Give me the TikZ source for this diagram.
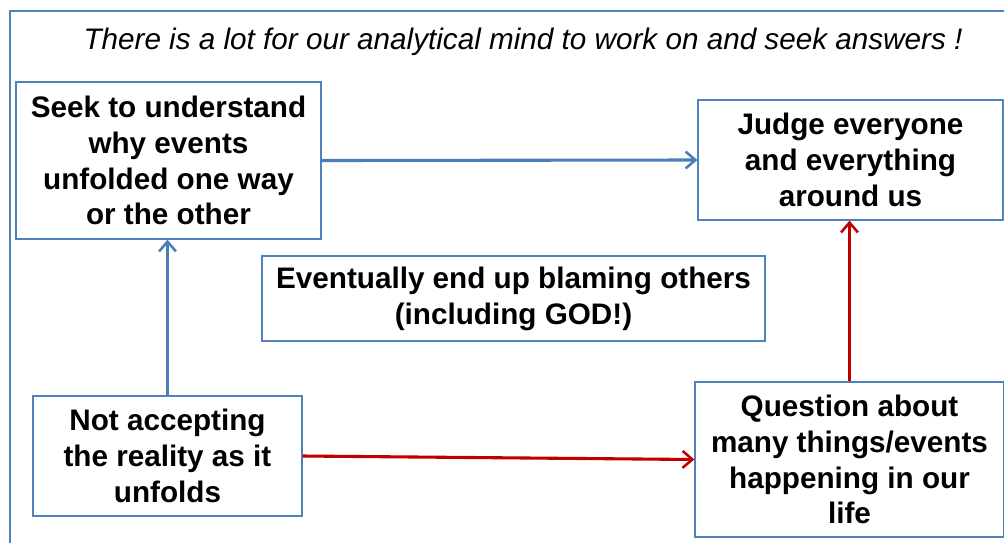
\documentclass[tikz,border=0pt]{standalone}
\usepackage{fontspec}
\setmainfont{Liberation Sans}
\usetikzlibrary{arrows.meta}
\definecolor{boxblue}{RGB}{79,129,189}
\definecolor{arrowblue}{RGB}{74,126,187}
\definecolor{arrowred}{RGB}{192,0,0}
\tikzset{
  box/.style={draw=boxblue, line width=0.9pt, fill=white, inner sep=0pt, align=center,
    font=\fontsize{21.1}{25.5}\selectfont\bfseries},
  bluearrow/.style={draw=arrowblue, line width=2.2pt, -{Straight Barb[length=7pt,width=12pt,line width=1.8pt]}},
  redarrow/.style={draw=arrowred, line width=2.2pt, -{Straight Barb[length=7pt,width=12pt,line width=1.8pt]}},
}
\begin{document}
\begin{tikzpicture}[x=0.025cm, y=-0.025cm]
\useasboundingbox (0,0) rectangle (1004,542);
\fill[white] (0,0) rectangle (1004,542);
\draw[boxblue, line width=1pt] (10,560) -- (10,11) -- (1020,11);
\node[font=\fontsize{21.1}{25}\selectfont\itshape] (title) at (523,42) {There is a lot for our analytical mind to work on and seek answers !};
\node[box, minimum width=305*0.025cm, minimum height=157*0.025cm] (seek) at (168.5,160.5) {Seek to understand\\why events\\unfolded one way\\or the other};
\node[box, minimum width=305*0.025cm, minimum height=120*0.025cm] (judge) at (850.5,160) {Judge everyone\\and everything\\around us};
\node[box, minimum width=269*0.025cm, minimum height=120*0.025cm] (notacc) at (167.5,456) {Not accepting\\the reality as it\\unfolds};
\node[box, minimum width=309*0.025cm, minimum height=155*0.025cm] (question) at (849.5,459.5) {Question about\\many things/events\\happening in our\\life};
\node[box, minimum width=503*0.025cm, minimum height=85*0.025cm] (blame) at (513.5,298.5) {Eventually end up blaming others\\(including GOD!)};
\draw[bluearrow] (seek.east) -- (judge.west);
\draw[bluearrow] (notacc.north) -- (notacc.north |- seek.south);
\draw[redarrow] (notacc.east) -- (question.west);
\draw[redarrow] (question.north) -- (question.north |- judge.south);
\end{tikzpicture}
\end{document}
